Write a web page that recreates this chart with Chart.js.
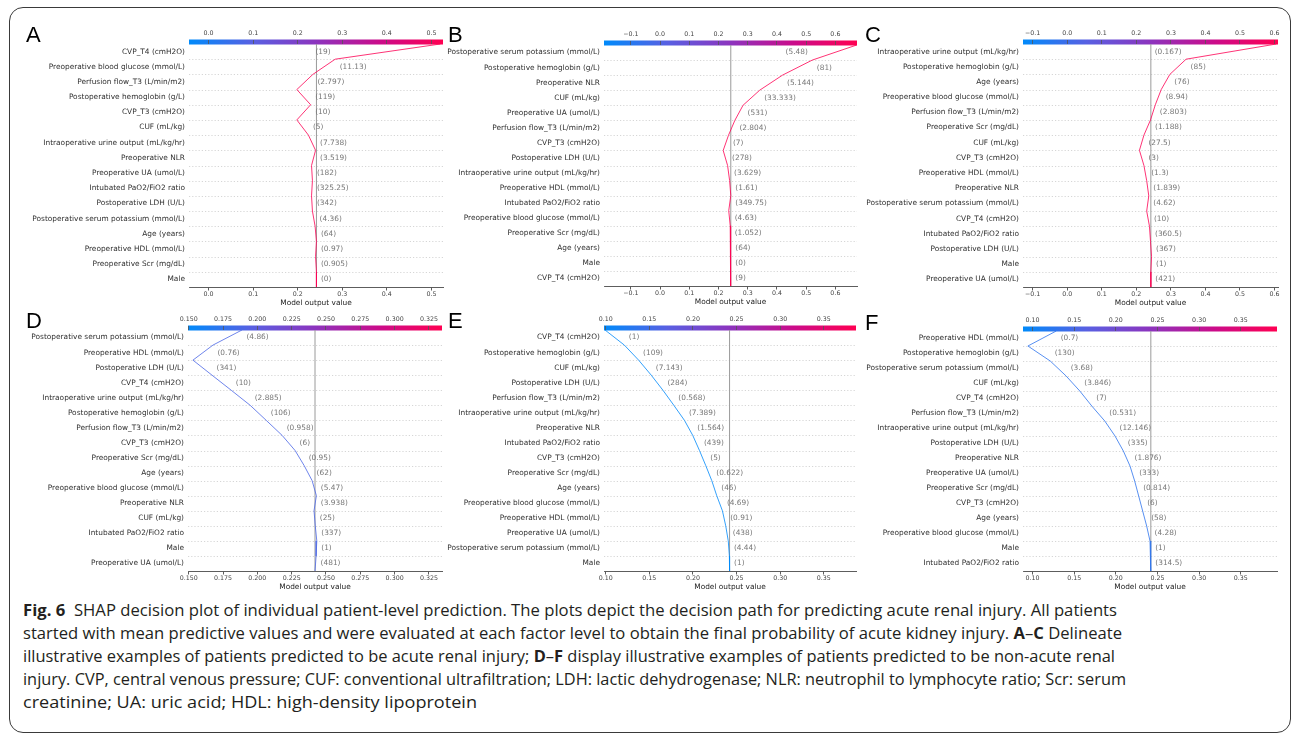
<!DOCTYPE html>
<html>
<head>
<meta charset="utf-8">
<script src="https://cdn.jsdelivr.net/npm/chart.js@4.4.1/dist/chart.umd.min.js"></script>
<style>
  html, body { margin: 0; padding: 0; background: #fff; }
  #fig { position: relative; width: 1295px; height: 738px; overflow: hidden; background: #fff; }
  #frame { position: absolute; left: 9px; top: 7px; width: 1282px; height: 726px;
           border: 1.5px solid #3a3a3a; border-radius: 14px; box-sizing: border-box; }
  .panel { position: absolute; }
  .letter { position: absolute; font: 22px "Liberation Sans", Arial, sans-serif; line-height: 22px; color: #000; }
  .cap { position: absolute; left: 22.5px; font: 16.5px "Open Sans", sans-serif; line-height: 22px;
         color: #231f20; white-space: nowrap; transform-origin: 0 50%; }
  .cap b { font-weight: 700; }
</style>
</head>
<body>
<div id="fig">
  <div id="frame"></div>
  <div class="cap" data-w="1094" style="top:598.5px"><b>Fig. 6</b>&nbsp; SHAP decision plot of individual patient-level prediction. The plots depict the decision path for predicting acute renal injury. All patients</div>
  <div class="cap" data-w="1099" style="top:621.7px">started with mean predictive values and were evaluated at each factor level to obtain the final probability of acute kidney injury. <b>A</b>–<b>C</b> Delineate</div>
  <div class="cap" data-w="1092" style="top:644.9px">illustrative examples of patients predicted to be acute renal injury; <b>D</b>–<b>F</b> display illustrative examples of patients predicted to be non-acute renal</div>
  <div class="cap" data-w="1103" style="top:668.1px">injury. CVP, central venous pressure; CUF: conventional ultrafiltration; LDH: lactic dehydrogenase; NLR: neutrophil to lymphocyte ratio; Scr: serum</div>
  <div class="cap" data-w="454" style="top:691.3px">creatinine; UA: uric acid; HDL: high-density lipoprotein</div>
</div>
<script>
// mean model output (all decision paths start here, at the bottom)
var BASE = 0.242;

// feature order is top -> bottom; path is cumulative model output at each row boundary, top -> bottom
var featuresA = ['CVP_T4 (cmH2O)', 'Preoperative blood glucose (mmol/L)', 'Perfusion flow_T3 (L/min/m2)', 'Postoperative hemoglobin (g/L)',
  'CVP_T3 (cmH2O)', 'CUF (mL/kg)', 'Intraoperative urine output (mL/kg/hr)', 'Preoperative NLR', 'Preoperative UA (umol/L)',
  'Intubated PaO2/FiO2 ratio', 'Postoperative LDH (U/L)', 'Postoperative serum potassium (mmol/L)', 'Age (years)',
  'Preoperative HDL (mmol/L)', 'Preoperative Scr (mg/dL)', 'Male'];
var valuesA = [19, 11.13, 2.797, 119, 10, 5, 7.738, 3.519, 182, 325.25, 342, 4.36, 64, 0.97, 0.905, 0];
var pathA = [0.520, 0.284, 0.234, 0.198, 0.229, 0.198, 0.224, 0.240, 0.231, 0.233, 0.231, 0.233, 0.239, 0.242, 0.240, 0.242, 0.242];
var ticksA = [0.0, 0.1, 0.2, 0.3, 0.4, 0.5];
var rangeA = [-0.044, 0.526];

var featuresB = ['Postoperative serum potassium (mmol/L)', 'Postoperative hemoglobin (g/L)', 'Preoperative NLR', 'CUF (mL/kg)',
  'Preoperative UA (umol/L)', 'Perfusion flow_T3 (L/min/m2)', 'CVP_T3 (cmH2O)', 'Postoperative LDH (U/L)',
  'Intraoperative urine output (mL/kg/hr)', 'Preoperative HDL (mmol/L)', 'Intubated PaO2/FiO2 ratio',
  'Preoperative blood glucose (mmol/L)', 'Preoperative Scr (mg/dL)', 'Age (years)', 'Male', 'CVP_T4 (cmH2O)'];
var valuesB = [5.48, 81, 5.144, 33.333, 531, 2.804, 7, 278, 3.629, 1.61, 349.75, 4.63, 1.052, 64, 0, 9];
var pathB = [0.673, 0.521, 0.419, 0.341, 0.284, 0.256, 0.234, 0.216, 0.231, 0.238, 0.242, 0.235, 0.240, 0.240, 0.242, 0.242, 0.242];
var ticksB = [-0.1, 0.0, 0.1, 0.2, 0.3, 0.4, 0.5, 0.6];
var rangeB = [-0.192, 0.674];

var featuresC = ['Intraoperative urine output (mL/kg/hr)', 'Postoperative hemoglobin (g/L)', 'Age (years)',
  'Preoperative blood glucose (mmol/L)', 'Perfusion flow_T3 (L/min/m2)', 'Preoperative Scr (mg/dL)', 'CUF (mL/kg)',
  'CVP_T3 (cmH2O)', 'Preoperative HDL (mmol/L)', 'Preoperative NLR', 'Postoperative serum potassium (mmol/L)',
  'CVP_T4 (cmH2O)', 'Intubated PaO2/FiO2 ratio', 'Postoperative LDH (U/L)', 'Male', 'Preoperative UA (umol/L)'];
var valuesC = [0.167, 85, 76, 8.94, 2.803, 1.188, 27.5, 3, 1.3, 1.839, 4.62, 10, 360.5, 367, 1, 421];
var pathC = [0.605, 0.344, 0.297, 0.272, 0.255, 0.241, 0.222, 0.209, 0.222, 0.230, 0.236, 0.230, 0.238, 0.241, 0.244, 0.242, 0.242];
var ticksC = [-0.1, 0.0, 0.1, 0.2, 0.3, 0.4, 0.5, 0.6];
var rangeC = [-0.128, 0.610];

var featuresD = ['Postoperative serum potassium (mmol/L)', 'Preoperative HDL (mmol/L)', 'Postoperative LDH (U/L)', 'CVP_T4 (cmH2O)',
  'Intraoperative urine output (mL/kg/hr)', 'Postoperative hemoglobin (g/L)', 'Perfusion flow_T3 (L/min/m2)', 'CVP_T3 (cmH2O)',
  'Preoperative Scr (mg/dL)', 'Age (years)', 'Preoperative blood glucose (mmol/L)', 'Preoperative NLR', 'CUF (mL/kg)',
  'Intubated PaO2/FiO2 ratio', 'Male', 'Preoperative UA (umol/L)'];
var valuesD = [4.86, 0.76, 341, 10, 2.885, 106, 0.958, 6, 0.95, 62, 5.47, 3.938, 25, 337, 1, 481];
var pathD = [0.1888, 0.1677, 0.1531, 0.1670, 0.1810, 0.1948, 0.2065, 0.2181, 0.2275, 0.2341, 0.2399, 0.2430, 0.2413, 0.2422, 0.2433, 0.2428, 0.2420];
var ticksD = [0.150, 0.175, 0.200, 0.225, 0.250, 0.275, 0.300, 0.325];
var rangeD = [0.1495, 0.3345];

var featuresE = ['CVP_T4 (cmH2O)', 'Postoperative hemoglobin (g/L)', 'CUF (mL/kg)', 'Postoperative LDH (U/L)',
  'Perfusion flow_T3 (L/min/m2)', 'Intraoperative urine output (mL/kg/hr)', 'Preoperative NLR', 'Intubated PaO2/FiO2 ratio',
  'CVP_T3 (cmH2O)', 'Preoperative Scr (mg/dL)', 'Age (years)', 'Preoperative blood glucose (mmol/L)',
  'Preoperative HDL (mmol/L)', 'Preoperative UA (umol/L)', 'Postoperative serum potassium (mmol/L)', 'Male'];
var valuesE = [1, 109, 7.143, 284, 0.568, 7.389, 1.564, 439, 5, 0.622, 46, 4.69, 0.91, 438, 4.44, 1];
var pathE = [0.0992, 0.1213, 0.1377, 0.1522, 0.1656, 0.1781, 0.1903, 0.1998, 0.2075, 0.2147, 0.2216, 0.2273, 0.2338, 0.2376, 0.2405, 0.2418, 0.2420];
var ticksE = [0.10, 0.15, 0.20, 0.25, 0.30, 0.35];
var rangeE = [0.098, 0.387];

var featuresF = ['Preoperative HDL (mmol/L)', 'Postoperative hemoglobin (g/L)', 'Postoperative serum potassium (mmol/L)',
  'CUF (mL/kg)', 'CVP_T4 (cmH2O)', 'Perfusion flow_T3 (L/min/m2)', 'Intraoperative urine output (mL/kg/hr)',
  'Postoperative LDH (U/L)', 'Preoperative NLR', 'Preoperative UA (umol/L)', 'Preoperative Scr (mg/dL)', 'CVP_T3 (cmH2O)',
  'Age (years)', 'Preoperative blood glucose (mmol/L)', 'Male', 'Intubated PaO2/FiO2 ratio'];
var valuesF = [0.7, 130, 3.68, 3.846, 7, 0.531, 12.146, 335, 1.876, 333, 0.814, 6, 58, 4.28, 1, 314.5];
var pathF = [0.1284, 0.0944, 0.1212, 0.1403, 0.1567, 0.1711, 0.1867, 0.1990, 0.2090, 0.2170, 0.2226, 0.2274, 0.2322, 0.2370, 0.2410, 0.2418, 0.2420];
var ticksF = [0.10, 0.15, 0.20, 0.25, 0.30, 0.35];
var rangeF = [0.0885, 0.3935];

// shap red-blue colormap
var cmapStops = [[0, [0, 138, 250]], [0.25, [88, 96, 226]], [0.5, [140, 52, 190]], [0.75, [202, 12, 138]], [1, [255, 0, 82]]];
function rgb(c, alpha) {
  var s = c.map(Math.round).join(',');
  return alpha === undefined ? 'rgb(' + s + ')' : 'rgba(' + s + ',' + alpha + ')';
}
function cmap(t, alpha) {
  t = Math.max(0, Math.min(1, t));
  for (var i = 1; i < cmapStops.length; i++) {
    if (t <= cmapStops[i][0]) {
      var a = cmapStops[i - 1], b = cmapStops[i], f = (t - a[0]) / (b[0] - a[0]);
      return rgb(a[1].map(function(v, k) { return v + (b[1][k] - v) * f; }), alpha);
    }
  }
  return rgb(cmapStops[cmapStops.length - 1][1], alpha);
}

var panels = [
  {id: 'A', features: featuresA, values: valuesA, path: pathA, ticks: ticksA, range: rangeA, dec: 1, box: {l: 189, r: 443, t: 44, b: 287}},
  {id: 'B', features: featuresB, values: valuesB, path: pathB, ticks: ticksB, range: rangeB, dec: 1, box: {l: 604, r: 857, t: 45, b: 286}},
  {id: 'C', features: featuresC, values: valuesC, path: pathC, ticks: ticksC, range: rangeC, dec: 1, box: {l: 1023, r: 1278, t: 44, b: 287}},
  {id: 'D', features: featuresD, values: valuesD, path: pathD, ticks: ticksD, range: rangeD, dec: 3, box: {l: 188, r: 442, t: 330, b: 571}},
  {id: 'E', features: featuresE, values: valuesE, path: pathE, ticks: ticksE, range: rangeE, dec: 2, box: {l: 604, r: 856, t: 330, b: 571}},
  {id: 'F', features: featuresF, values: valuesF, path: pathF, ticks: ticksF, range: rangeF, dec: 2, box: {l: 1023, r: 1277, t: 330.5, b: 571}}
];
var letterPos = {A: [26, 24], B: [448, 24], C: [865, 24], D: [26, 310], E: [448, 310], F: [865, 312]};

var FONT = '"DejaVu Sans", sans-serif';
var fig = document.getElementById('fig');

function decorations(p) {
  return {
    id: 'shapDecor' + p.id,
    beforeDraw: function(chart) {
      var a = chart.chartArea, ctx = chart.ctx;
      var g = ctx.createLinearGradient(a.left, 0, a.right, 0);
      cmapStops.forEach(function(s) { g.addColorStop(s[0], rgb(s[1])); });
      ctx.save();
      ctx.fillStyle = g;
      ctx.fillRect(a.left, a.top - 4.5, a.right - a.left, 5);
      ctx.restore();
    },
    beforeDatasetsDraw: function(chart) {
      var a = chart.chartArea, ctx = chart.ctx, sy = chart.scales.y;
      var n = p.features.length;
      ctx.save();
      ctx.strokeStyle = '#c4c4c4';
      ctx.lineWidth = 0.7;
      ctx.setLineDash([1.2, 2]);
      for (var i = 1; i < n; i++) {
        var y = Math.round(sy.getPixelForValue(i)) + 0.5;
        ctx.beginPath(); ctx.moveTo(a.left, y); ctx.lineTo(a.right, y); ctx.stroke();
      }
      ctx.setLineDash([]);
      var bx = chart.scales.x.getPixelForValue(BASE);
      ctx.strokeStyle = '#9a9a9a';
      ctx.lineWidth = 1;
      ctx.beginPath(); ctx.moveTo(bx, a.top); ctx.lineTo(bx, a.bottom); ctx.stroke();
      ctx.restore();
    },
    afterDatasetsDraw: function(chart) {
      var a = chart.chartArea, ctx = chart.ctx, sx = chart.scales.x, sy = chart.scales.y;
      var n = p.features.length;
      ctx.save();
      ctx.font = '7.4px ' + FONT;
      ctx.fillStyle = '#777';
      ctx.textBaseline = 'middle';
      for (var r = 0; r < n; r++) {
        var x1 = sx.getPixelForValue(p.path[r]), x2 = sx.getPixelForValue(p.path[r + 1]);
        var y = sy.getPixelForValue(n - r - 0.5);
        var txt = '(' + p.values[r] + ')';
        var x = Math.max(x1, x2) + 4.5;
        if (x + ctx.measureText(txt).width > a.right) {
          ctx.textAlign = 'right';
          x = Math.min(x1, x2) - 4.5;
        } else {
          ctx.textAlign = 'left';
        }
        ctx.fillText(txt, x, y);
      }
      ctx.restore();
    }
  };
}

function drawPanel(p) {
  var n = p.features.length;
  var left = p.box.l - 175, top = p.box.t - 16;
  var width = p.box.r - left + 8, height = p.box.b - top + 21;
  var wrap = document.createElement('div');
  wrap.className = 'panel';
  wrap.style.left = left + 'px'; wrap.style.top = top + 'px';
  var canvas = document.createElement('canvas');
  canvas.width = width; canvas.height = height;
  canvas.style.width = width + 'px'; canvas.style.height = height + 'px';
  wrap.appendChild(canvas);
  fig.appendChild(wrap);

  var lbl = document.createElement('div');
  lbl.className = 'letter';
  lbl.textContent = p.id;
  lbl.style.left = letterPos[p.id][0] + 'px';
  lbl.style.top = letterPos[p.id][1] + 'px';
  fig.appendChild(lbl);

  var fmt = function(v) { return (v < -1e-9 ? '\u2212' : '') + Math.abs(v).toFixed(p.dec); };
  var setTicks = function(axis) { axis.ticks = p.ticks.map(function(v) { return {value: v}; }); };
  var tickFont = {family: FONT, size: 6.3};
  var norm = (p.path[0] - p.range[0]) / (p.range[1] - p.range[0]);

  new Chart(canvas, {
    type: 'line',
    data: {
      datasets: [{
        data: p.path.map(function(v, k) { return {x: v, y: n - k}; }),
        borderColor: cmap(norm, 0.8),
        borderWidth: 1,
        pointRadius: 0,
        tension: 0,
        fill: false
      }]
    },
    options: {
      responsive: false,
      animation: false,
      layout: {padding: {left: 0, right: 8, top: 0, bottom: 0}},
      plugins: {legend: {display: false}, tooltip: {enabled: false}},
      scales: {
        x: {
          type: 'linear', position: 'bottom', min: p.range[0], max: p.range[1],
          afterBuildTicks: setTicks,
          afterFit: function(s) { s.height = 21; },
          ticks: {callback: fmt, autoSkip: false, maxRotation: 0, padding: 0, color: '#444', font: tickFont},
          grid: {drawOnChartArea: false, drawTicks: true, tickLength: 3.5, color: '#333', tickWidth: 0.8},
          border: {display: true, color: '#333', width: 0.8},
          title: {display: true, text: 'Model output value', color: '#222', font: {family: FONT, size: 7.4}, padding: {top: 0, bottom: 0}}
        },
        x2: {
          type: 'linear', position: 'top', min: p.range[0], max: p.range[1],
          afterBuildTicks: setTicks,
          afterFit: function(s) { s.height = 16; },
          ticks: {callback: fmt, autoSkip: false, maxRotation: 0, padding: 3, color: '#444', font: tickFont},
          grid: {drawOnChartArea: false, drawTicks: true, tickLength: 4, color: '#555', tickWidth: 0.8},
          border: {display: false}
        },
        y: {
          type: 'linear', min: 0, max: n,
          afterBuildTicks: function(axis) { axis.ticks = p.features.map(function(_, i) { return {value: i + 0.5}; }); },
          afterFit: function(s) { s.width = 175; },
          ticks: {
            callback: function(v) { return p.features[n - 1 - Math.floor(v)]; },
            autoSkip: false, padding: 4, color: '#2f2f2f', font: {family: FONT, size: 7.4}
          },
          grid: {display: false, drawTicks: false},
          border: {display: false}
        }
      }
    },
    plugins: [decorations(p)]
  });
}

panels.forEach(drawPanel);

function fitCaption() {
  document.querySelectorAll('.cap').forEach(function(el) {
    el.style.transform = 'none';
    var w = el.getBoundingClientRect().width;
    el.style.transform = 'scaleX(' + (parseFloat(el.dataset.w) / w) + ')';
  });
}
fitCaption();
if (document.fonts && document.fonts.ready) document.fonts.ready.then(fitCaption);
</script>
</body>
</html>
